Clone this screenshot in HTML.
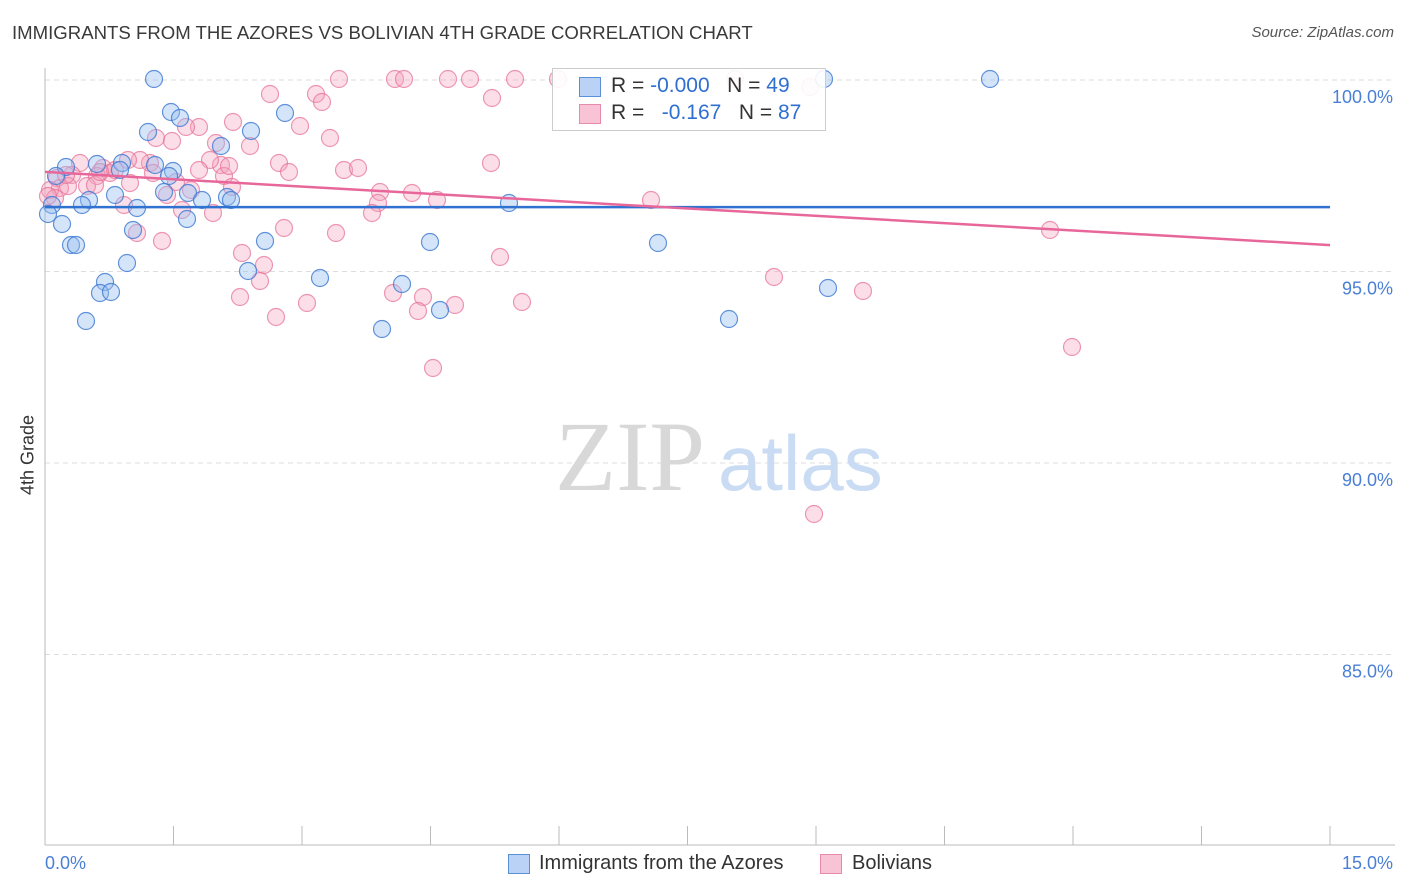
<!DOCTYPE html>
<html><head><meta charset="utf-8"><style>
body{margin:0;background:#fff;font-family:"Liberation Sans",sans-serif;}
#wrap{position:relative;width:1406px;height:892px;overflow:hidden;}
.t{position:absolute;white-space:nowrap;}
</style></head><body>
<div id="wrap">
<div class="t" style="left:12px;top:22px;font-size:18.6px;color:#3a3a3a;">IMMIGRANTS FROM THE AZORES VS BOLIVIAN 4TH GRADE CORRELATION CHART</div>
<div class="t" style="right:12px;top:24px;font-size:15px;color:#555;font-style:italic;">Source: ZipAtlas.com</div>
<svg id="svg" width="1406" height="892" style="position:absolute;left:0;top:0"></svg>
</div>
<script>
const blueX=[154,171,180,148,251,285,221,66,97,122,155,173,169,56,115,164,188,202,227,231,89,82,137,52,48,62,133,187,71,76,265,127,248,320,105,100,111,86,382,402,440,430,509,658,729,828,824,990,120].map(p=>(p-45)/1285*15);
const blueY=[79,112,118,132,131,113,146,167,164,163,165,171,176,176,195,192,193,200,197,200,200,205,208,205,214,224,230,219,245,245,241,263,271,278,282,293,292,321,329,284,310,242,203,243,319,288,79,79,170].map(p=>100-(p-80)/191.5*5);
const pinkX=[339,395,404,448,470,515,558,735,810,270,316,322,492,233,199,186,300,330,156,172,216,250,221,210,279,289,344,358,491,150,140,128,103,80,110,97,57,72,87,95,60,50,55,68,167,191,176,199,224,229,380,412,378,437,651,372,182,213,124,137,162,336,284,242,264,260,240,276,307,393,423,418,455,522,500,774,863,1050,1072,814,433,232,130,115,66,100,153,48].map(p=>(p-45)/1285*15);
const pinkY=[79,79,79,79,79,79,79,79,87,94,94,102,98,122,127,127,126,138,138,141,143,146,165,160,163,172,170,168,163,163,160,160,168,163,173,176,178,175,186,185,188,190,198,186,195,190,182,170,176,166,192,193,203,200,200,213,210,213,205,233,241,233,228,253,265,281,297,317,303,293,297,311,305,302,257,277,291,230,347,514,368,187,183,170,175,172,173,196].map(p=>100-(p-80)/191.5*5);
const blueTrend=[96.68,96.68];
const pinkTrend=[97.6,95.69];
const yTicks=[100,95,90,85];
const X=v=>45+v/15*1285, Y=v=>80+(100-v)/5*191.5;
const svg=document.getElementById('svg');const NS='http://www.w3.org/2000/svg';
function mk(tag,attrs){const e=document.createElementNS(NS,tag);for(const k in attrs)e.setAttribute(k,attrs[k]);svg.appendChild(e);return e;}
yTicks.forEach(v=>{const l=mk('line',{x1:45,x2:1395,y1:Y(v),y2:Y(v),stroke:'#ddd','stroke-dasharray':'5,4'});


const t=mk('text',{x:1393,y:Y(v)+23,'text-anchor':'end','font-size':18,fill:'#4a7fd6','font-family':'Liberation Sans'});t.textContent=v.toFixed(1)+'%';

});
mk('line',{x1:45,x2:45,y1:68,y2:845,stroke:'#bbb'});
mk('line',{x1:45,x2:1395,y1:845,y2:845,stroke:'#bbb'});
for(let i=0;i<=10;i++){const x=45+i*128.5;const l=mk('line',{x1:x,x2:x,y1:826,y2:845,stroke:'#bbb'});

}
const w1=mk('text',{x:555,y:490,'font-size':100,fill:'#d8d8d8','font-family':'Liberation Serif'});w1.textContent='ZIP';


const w2=mk('text',{x:718,y:490,'font-size':78,fill:'#c9dcf3','font-family':'Liberation Sans'});w2.textContent='atlas';


function pts(xs,ys,fill,stroke,name){xs.forEach((x,i)=>{const c=mk('circle',{cx:X(x),cy:Y(ys[i]),r:8.5,fill:fill,stroke:stroke,'stroke-width':1.2});

});}
pts(pinkX,pinkY,'rgba(244,160,190,0.35)','rgba(230,110,150,0.7)','bolivian-point');
pts(blueX,blueY,'rgba(150,190,240,0.4)','rgba(60,120,210,0.8)','azores-point');
const bl=mk('line',{x1:X(0),x2:X(15),y1:Y(blueTrend[0]),y2:Y(blueTrend[1]),stroke:'#2f72d0','stroke-width':2.5});


const pl=mk('line',{x1:X(0),x2:X(15),y1:Y(pinkTrend[0]),y2:Y(pinkTrend[1]),stroke:'#e8679a','stroke-width':2.5});


</script>
<div class="t" style="left:552px;top:68px;width:272px;height:61px;border:1px solid #ccc;background:rgba(255,255,255,0.9);">
 <div class="t" style="left:26px;top:8px;width:20px;height:18px;background:#b9d2f5;border:1px solid #5b8fd8;"></div>
 <div class="t" style="left:58px;top:5px;font-size:21px;color:#333;">R = <span style="color:#2f6fd0">-0.000</span>&nbsp;&nbsp;&nbsp;N = <span style="color:#2f6fd0">49</span></div>
 <div class="t" style="left:26px;top:35px;width:20px;height:18px;background:#f8c3d5;border:1px solid #e88aae;"></div>
 <div class="t" style="left:58px;top:32px;font-size:21px;color:#333;">R = &nbsp;&nbsp;<span style="color:#2f6fd0">-0.167</span>&nbsp;&nbsp;&nbsp;N = <span style="color:#2f6fd0">87</span></div>
</div>
<div class="t" style="top:455px;font-size:18px;color:#333;transform:translate(-50%,-50%) rotate(-90deg);transform-origin:center;left:28px;">4th Grade</div>
<div class="t" style="left:45px;top:853px;font-size:18px;color:#4a7fd6;">0.0%</div>
<div class="t" style="right:13px;top:853px;font-size:18px;color:#4a7fd6;">15.0%</div>
<div class="t" style="left:508px;top:854px;width:20px;height:18px;background:#b9d2f5;border:1px solid #5b8fd8;"></div>
<div class="t" style="left:539px;top:852px;font-size:20px;color:#333;">Immigrants from the Azores</div>
<div class="t" style="left:820px;top:854px;width:20px;height:18px;background:#f8c3d5;border:1px solid #e88aae;"></div>
<div class="t" style="left:852px;top:852px;font-size:20px;color:#333;">Bolivians</div>
</body></html>
